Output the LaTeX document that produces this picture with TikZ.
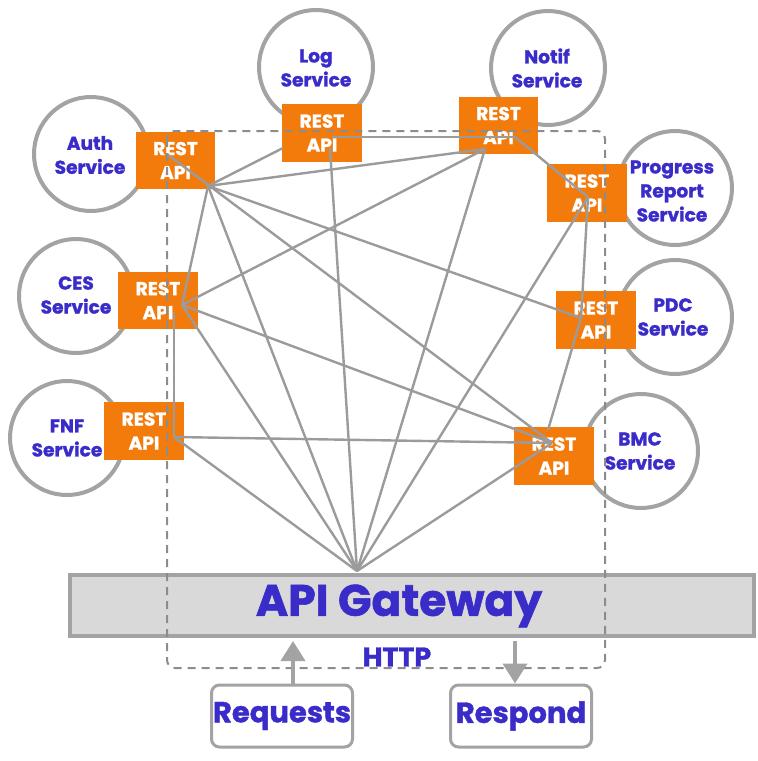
\documentclass[tikz,border=0pt]{standalone}
\usepackage{fontspec}
\setmainfont{Poppins}[BoldFeatures={FakeBold=1.3}]
\usetikzlibrary{arrows.meta}
\definecolor{svcblue}{RGB}{58,44,200}
\definecolor{apiorange}{RGB}{242,123,12}
\definecolor{lgray}{RGB}{155,155,155}
\definecolor{cgray}{RGB}{163,163,163}
\definecolor{dgray}{RGB}{140,140,140}
\definecolor{gwfill}{RGB}{217,217,217}
\begin{document}
\begin{tikzpicture}[x=0.5pt,y=-0.5pt,
  svc/.style={circle,draw=cgray,line width=2pt,fill=white,minimum size=57pt,inner sep=0pt},
  svctext/.style={text=svcblue,font=\bfseries\fontsize{9.3}{12}\selectfont,align=center,inner sep=0pt},
  api/.style={rectangle,fill=apiorange,minimum width=39.75pt,minimum height=28.75pt,inner sep=0pt,
    text=white,font=\bfseries\fontsize{9.3}{12}\selectfont,align=center},
  link/.style={draw=lgray,line width=1.2pt},
  iobox/.style={rectangle,rounded corners=4pt,draw=cgray,line width=1.5pt,fill=white,
    minimum width=70.5pt,minimum height=31pt,inner sep=0pt,text=svcblue,font=\bfseries\fontsize{14.5}{16}\selectfont},
  ioarrow/.style={draw=cgray,line width=2pt,-{Triangle[length=10pt,width=12pt]}}
]
\useasboundingbox (0,0) rectangle (758,761);

% service circles
\node[svc] (auth) at (91,154) {};
\node[svc] (ces) at (76,296) {};
\node[svc] (fnf) at (67,438) {};
\node[svc] (log) at (316,67) {};
\node[svc] (notif) at (548,68) {};
\node[svc] (prog) at (675,188) {};
\node[svc] (pdc) at (675,317) {};
\node[svc] (bmc) at (641,451) {};

\node[svctext] (authT) at (90,155) {Auth\\Service};
\node[svctext] (cesT) at (76,295) {CES\\Service};
\node[svctext] (fnfT) at (67,438) {FNF\\Service};
\node[svctext] (logT) at (316,68) {Log\\Service};
\node[svctext] (notifT) at (547,68) {Notif\\Service};
\node[svctext] (progT) at (672,191) {Progress\\Report\\Service};
\node[svctext] (pdcT) at (673,317) {PDC\\Service};
\node[svctext] (bmcT) at (640,451) {BMC\\Service};

% REST API boxes
\node[api] (authA) at (175.5,160.5) {REST\\API};
\node[api] (cesA) at (158,300.5) {REST\\API};
\node[api] (fnfA) at (144,431) {REST\\API};
\node[api] (logA) at (322,133) {REST\\API};
\node[api] (notifA) at (498.5,125.5) {REST\\API};
\node[api] (progA) at (587,193) {REST\\API};
\node[api] (pdcA) at (596,320) {REST\\API};
\node[api] (bmcA) at (554,456) {REST\\API};

% gateway
\node[rectangle,draw=cgray,line width=2pt,fill=gwfill,minimum width=342pt,minimum height=30.5pt,inner sep=0pt] (gw) at (412,605.5) {};
\node[text=svcblue,font=\bfseries\fontsize{22}{24}\selectfont,inner sep=0pt] (gwT) at (399,606) {API Gateway};

% attach points
\coordinate (aA) at (208,186);
\coordinate (aA2) at (167,154);
\coordinate (lW) at (283,148);
\coordinate (lL) at (330,148);
\coordinate (lN) at (332,137);
\coordinate (nN) at (485,149);
\coordinate (nE) at (515,137);
\coordinate (pP) at (588,197);
\coordinate (dD) at (581,318);
\coordinate (bB) at (552,443);
\coordinate (bB3) at (548,430);
\coordinate (cC) at (182,305);
\coordinate (cV) at (174,312);
\coordinate (fF) at (174,437);
\coordinate (g) at (357,571);

% connectors
\draw[link] (aA) -- (lW);
\draw[link] (aA) -- (nN);
\draw[link] (aA) -- (dD);
\draw[link] (aA2) -- (bB);
\draw[link] (aA) -- (g);
\draw[link] (aA) -- (cC);
\draw[link] (lN) -- (nE);
\draw[link] (lL) -- (g);
\draw[link] (nE) -- (pP);
\draw[link] (nN) -- (cC);
\draw[link] (nN) -- (g);
\draw[link] (pP) -- (dD);
\draw[link] (pP) -- (g);
\draw[link] (dD) -- (bB3);
\draw[link] (cC) -- (bB);
\draw[link] (cC) -- (g);
\draw[link] (cV) -- (fF);
\draw[link] (fF) -- (bB);
\draw[link] (fF) -- (g);
\draw[link] (bB) -- (g);

% HTTP boundary
\draw[draw=dgray,line width=1pt,dash pattern=on 4pt off 3pt,rounded corners=4pt] (167,131) rectangle (605,668);
\node[text=svcblue,font=\bfseries\fontsize{13.5}{15}\selectfont,inner sep=0pt] (http) at (397,657) {HTTP};

% requests / respond
\node[iobox] (req) at (282,716) {Requests};
\node[iobox] (resp) at (521,716) {Respond};
\coordinate (reqtip) at (293,641);
\coordinate (resptop) at (515,641);
\draw[ioarrow] (req.north -| reqtip) -- (reqtip);
\draw[ioarrow] (resptop) -- (resp.north -| resptop);
\end{tikzpicture}
\end{document}
